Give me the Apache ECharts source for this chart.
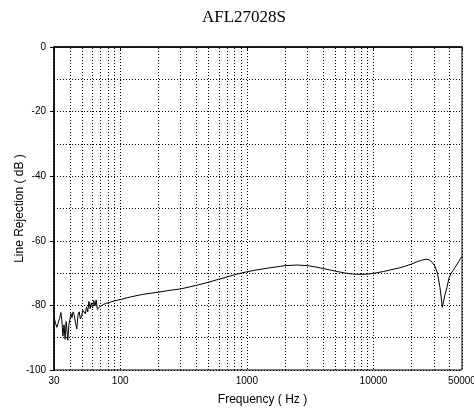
<!DOCTYPE html>
<html>
<head>
<meta charset="utf-8">
<script src="https://cdn.jsdelivr.net/npm/echarts@6/dist/echarts.min.js"></script>
<style>
html,body{margin:0;padding:0;background:#fff;}
#chart{width:474px;height:411px;}
</style>
</head>
<body>
<div id="chart"></div>
<script>
var titleText = 'AFL27028S';
var xName = 'Frequency ( Hz )';
var yName = 'Line Rejection ( dB )';
var freqHz = [30, 30.8, 31.6, 32.4, 33.2, 34.0, 34.6, 35.3, 36.0, 36.7, 37.4, 38.0, 38.6, 39.3, 40.0, 40.8, 41.6, 42.5, 43.4, 44.4, 45.4, 46.4, 47.4, 48.5, 49.6, 50.7, 51.8, 53, 54.2, 55.4, 56.6, 57.9, 59.2, 60.5, 61.8, 63.2, 64.6, 66, 67.5, 69, 71, 74, 77, 80, 85, 90, 100, 120, 150, 200, 250, 300, 400, 500, 600, 700, 800, 900, 1000, 1200, 1500, 2000, 2500, 3000, 3500, 4000, 5000, 6000, 7000, 8000, 9000, 10000, 12000, 14000, 16000, 18000, 20000, 22000, 24000, 26000, 27500, 29000, 30500, 32000, 33500, 35000, 36500, 38000, 39500, 41000, 42500, 44000, 45500, 47000, 48500, 50000];
var rejectionDb = [-83.5, -85.5, -86.8, -86.5, -84, -82.2, -84.5, -89.5, -86, -90.5, -85, -84.8, -90.8, -86, -84.5, -82.5, -83.8, -82, -83.2, -85.5, -87.3, -83, -82, -84.2, -83.2, -81.5, -81.2, -82.6, -80.5, -82, -78.8, -81, -79.2, -80.8, -78.5, -80.2, -78.3, -81.2, -80.6, -80.4, -79.9, -79.7, -79.4, -79.2, -78.9, -78.6, -78.2, -77.4, -76.6, -75.9, -75.3, -74.9, -73.8, -72.8, -71.9, -71.2, -70.5, -70.0, -69.6, -69.0, -68.4, -67.7, -67.5, -67.7, -68.1, -68.6, -69.4, -70.0, -70.3, -70.4, -70.3, -70.1, -69.5, -68.9, -68.4, -67.8, -67.2, -66.5, -66.0, -65.7, -65.9, -66.6, -67.8, -70.0, -74.5, -80.6, -77, -74.5, -71.5, -70.0, -69.2, -68.3, -67.8, -66.5, -65.5, -64.8];
var minorGridHz = [40, 50, 60, 70, 80, 90, 200, 300, 400, 500, 600, 700, 800, 900, 2000, 3000, 4000, 5000, 6000, 7000, 8000, 9000, 20000, 30000, 40000];
var xMin = 30, xMax = 50000;
var yMin = -100, yMax = 0, yStep = 20;

var seriesData = freqHz.map(function (f, i) { return [f, rejectionDb[i]]; });
var dotted = { color: '#000', width: 1, type: [1, 2] };
var font = '"Liberation Sans", Arial, sans-serif';

var chart = echarts.init(document.getElementById('chart'), null, { renderer: 'canvas' });
chart.setOption({
  animation: false,
  backgroundColor: '#fff',
  title: {
    text: titleText, left: 197, top: 4,
    textStyle: { fontFamily: '"Liberation Serif", "Times New Roman", serif', fontSize: 17, fontWeight: 'normal', color: '#000' }
  },
  grid: { left: 54, right: 12, top: 47, bottom: 41, outerBoundsMode: 'none', containLabel: false,
    show: true, borderColor: '#000', borderWidth: 1, backgroundColor: 'transparent' },
  xAxis: {
    type: 'log', logBase: 10, min: xMin, max: xMax,
    name: xName, nameLocation: 'middle', nameGap: 24, nameMoveOverlap: false,
    nameTextStyle: { fontFamily: font, fontSize: 12, color: '#000', padding: [0, 0, 0, 9] },
    axisLine: { show: true, lineStyle: { color: '#000', width: 1.5 } },
    axisTick: { show: true, inside: false, length: 4, lineStyle: { color: '#000' } },
    axisLabel: { margin: 6, fontFamily: font, fontSize: 10, color: '#000', showMinLabel: true, showMaxLabel: true,
      formatter: function (v) { return String(Math.round(v)); } },
    splitLine: { show: true, lineStyle: dotted }
  },
  yAxis: {
    type: 'value', min: yMin, max: yMax, interval: yStep,
    name: yName, nameLocation: 'middle', nameGap: 28, nameMoveOverlap: false,
    nameTextStyle: { fontFamily: font, fontSize: 12, color: '#000' },
    axisLine: { show: true, lineStyle: { color: '#000', width: 1.5 } },
    axisTick: { show: true, inside: false, length: 4, lineStyle: { color: '#000' } },
    axisLabel: { margin: 8, fontFamily: font, fontSize: 10, color: '#000' },
    splitLine: { show: true, lineStyle: dotted },
    minorTick: { show: false, splitNumber: 2 },
    minorSplitLine: { show: true, lineStyle: dotted }
  },
  series: [{
    type: 'line', data: seriesData, showSymbol: false, symbol: 'none',
    lineStyle: { color: '#000', width: 1 }, z: 5,
    markLine: {
      silent: true, symbol: 'none', label: { show: false },
      lineStyle: dotted, animation: false,
      data: minorGridHz.map(function (f) { return { xAxis: f }; })
    }
  }]
});
</script>
</body>
</html>
